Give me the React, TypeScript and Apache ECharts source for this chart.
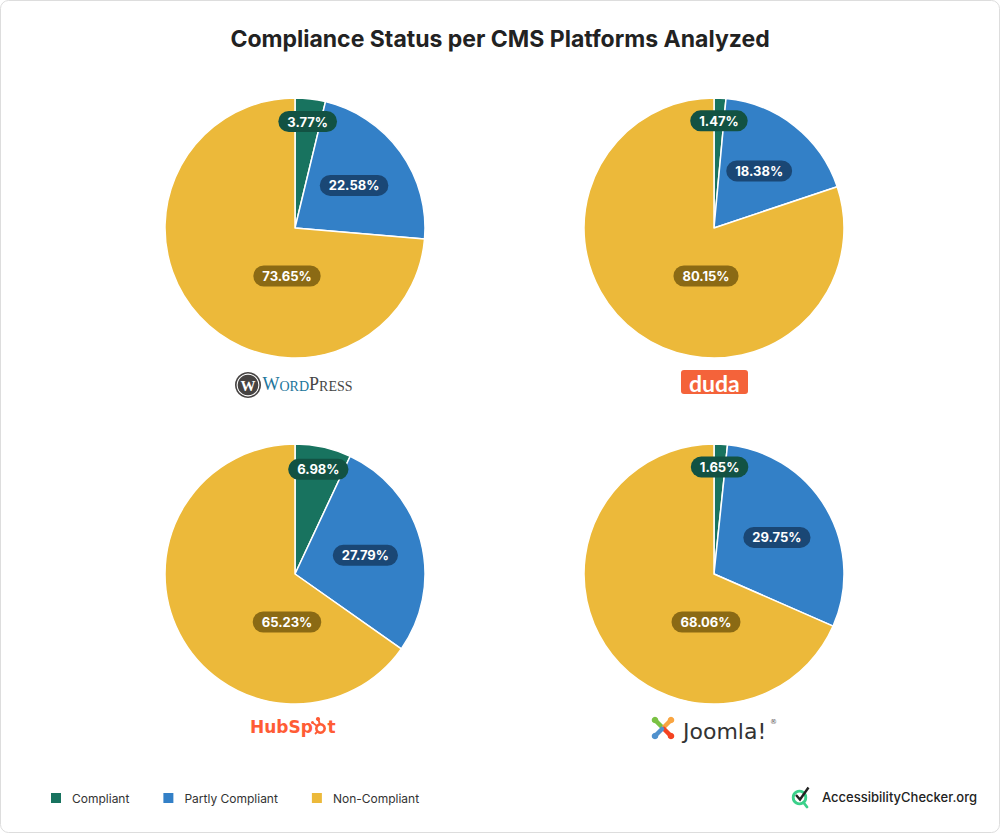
import React, { useEffect, useRef } from "react";
import * as echarts from "echarts";

const platforms = ["WordPress", "Duda", "HubSpot", "Joomla"];
const statuses = ["Compliant", "Partly Compliant", "Non-Compliant"];
const compliant = [3.77, 1.47, 6.98, 1.65];
const partlyCompliant = [22.58, 18.38, 27.79, 29.75];
const nonCompliant = [73.65, 80.15, 65.23, 68.06];

const valuesByStatus = [compliant, partlyCompliant, nonCompliant];
const sliceColors = ["#18735f", "#3380c7", "#ecb93a"];
const labelBgs = ["#125243", "#1a4775", "#8b6a14"];

const CENTERS: [number, number][] = [
  [295, 228],
  [714, 228],
  [295, 574],
  [714, 574],
];
const RADIUS = 130;

function seriesValues(s: number) {
  return valuesByStatus.map((arr) => arr[s]);
}

export default function App() {
  const ref = useRef<HTMLDivElement>(null);

  useEffect(() => {
    document.body.style.margin = "0";
    if (!ref.current) return;
    const chart = echarts.init(ref.current, undefined, { renderer: "svg" });

    const series = platforms.map((p, s) => ({
      type: "pie",
      name: p,
      center: CENTERS[s],
      radius: RADIUS,
      startAngle: 90,
      clockwise: true,
      avoidLabelOverlap: false,
      emphasis: { scale: false },
      itemStyle: { borderColor: "#ffffff", borderWidth: 1.5 },
      label: {
        show: true,
        position: "inside",
        formatter: "{c}%",
        color: "#ffffff",
        fontFamily: "Inter",
        fontWeight: 700,
        fontSize: 13,
        padding: [4, 9],
        borderRadius: 11,
      },
      labelLine: { show: false },
      labelLayout: (params: any) => {
        const si = params.seriesIndex;
        const i = params.dataIndex;
        const [cx, cy] = CENTERS[si];
        const vals = seriesValues(si);
        const total = vals.reduce((a, b) => a + b, 0);
        let before = 0;
        for (let k = 0; k < i; k++) before += vals[k];
        const mid = ((before + vals[i] / 2) / total) * Math.PI * 2;
        if (i === 2) {
          return { x: cx - 8, y: cy + 48, align: "center", verticalAlign: "middle" };
        }
        const d = i === 0 ? RADIUS * 0.825 : RADIUS * 0.56;
        return {
          x: cx + d * Math.sin(mid),
          y: cy - d * Math.cos(mid),
          align: "center",
          verticalAlign: "middle",
        };
      },
      data: statuses.map((name, k) => ({
        name,
        value: valuesByStatus[k][s],
        itemStyle: { color: sliceColors[k] },
        label: { backgroundColor: labelBgs[k] },
      })),
    }));

    const graphics: any[] = [
      {
        type: "rect",
        z: -10,
        shape: { x: 0.5, y: 0.5, width: 999, height: 832, r: 8 },
        style: { fill: "#ffffff", stroke: "#dddddd", lineWidth: 1 },
        silent: true,
      },
      // WordPress logo
      { type: "circle", shape: { cx: 248, cy: 385, r: 13 }, style: { fill: "#464342" } },
      { type: "circle", shape: { cx: 248, cy: 385, r: 11.4 }, style: { fill: "#ffffff" } },
      { type: "circle", shape: { cx: 248, cy: 385, r: 10.3 }, style: { fill: "#464342" } },
      {
        type: "text",
        x: 248,
        y: 386,
        style: {
          text: "W",
          fill: "#ffffff",
          fontFamily: "Liberation Serif",
          fontWeight: 700,
          fontSize: 15,
          align: "center",
          verticalAlign: "middle",
        },
      },
      {
        type: "text",
        x: 262.5,
        y: 384,
        style: {
          text: "{a|W}{b|ORD}{c|P}{d|RESS}",
          verticalAlign: "middle",
          align: "left",
          rich: {
            a: { fontFamily: "Liberation Serif", fontSize: 18, lineHeight: 18, fill: "#21759b", verticalAlign: "bottom" },
            b: { fontFamily: "Liberation Serif", fontSize: 14, lineHeight: 14, fill: "#21759b", verticalAlign: "bottom" },
            c: { fontFamily: "Liberation Serif", fontSize: 18, lineHeight: 18, fill: "#464646", verticalAlign: "bottom" },
            d: { fontFamily: "Liberation Serif", fontSize: 14, lineHeight: 14, fill: "#464646", verticalAlign: "bottom" },
          },
        },
      },
      // duda logo
      {
        type: "rect",
        shape: { x: 681, y: 370, width: 67, height: 24, r: 3 },
        style: { fill: "#f4633a" },
      },
      {
        type: "text",
        x: 714.3,
        y: 382.5,
        style: {
          text: "duda",
          fill: "#ffffff",
          fontFamily: "Lato",
          fontWeight: 700,
          fontSize: 23,
          align: "center",
          verticalAlign: "middle",
        },
      },
      // HubSpot logo
      {
        type: "text",
        x: 250,
        y: 727,
        style: {
          text: "HubSp",
          fill: "#ff5c35",
          fontFamily: "DejaVu Sans",
          fontWeight: 700,
          fontSize: 17,
          align: "left",
          verticalAlign: "middle",
        },
      },
      {
        type: "circle",
        shape: { cx: 320.5, cy: 728.5, r: 4.2 },
        style: { fill: "none", stroke: "#ff5c35", lineWidth: 2.6 },
      },
      {
        type: "line",
        shape: { x1: 320, y1: 724.5, x2: 318.5, y2: 720 },
        style: { stroke: "#ff5c35", lineWidth: 2 },
      },
      { type: "circle", shape: { cx: 318, cy: 719, r: 2.1 }, style: { fill: "#ff5c35" } },
      {
        type: "line",
        shape: { x1: 317, y1: 726, x2: 313, y2: 723 },
        style: { stroke: "#ff5c35", lineWidth: 1.6 },
      },
      { type: "circle", shape: { cx: 312.5, cy: 722.5, r: 1.5 }, style: { fill: "#ff5c35" } },
      {
        type: "line",
        shape: { x1: 317.5, y1: 731.5, x2: 315, y2: 734 },
        style: { stroke: "#ff5c35", lineWidth: 1.8 },
      },
      {
        type: "text",
        x: 327.5,
        y: 727,
        style: {
          text: "t",
          fill: "#ff5c35",
          fontFamily: "DejaVu Sans",
          fontWeight: 700,
          fontSize: 17,
          align: "left",
          verticalAlign: "middle",
        },
      },
      // Joomla logo
      ...[
        { c: "#7ac143", p: [[655, 720], [662, 727]] },
        { c: "#f9a541", p: [[671, 720], [664, 727]] },
        { c: "#f44321", p: [[671, 736], [664, 729]] },
        { c: "#5091cd", p: [[655, 736], [662, 729]] },
      ].flatMap((arm) => [
        {
          type: "polyline",
          shape: { points: arm.p },
          style: { stroke: arm.c, lineWidth: 4.5, lineCap: "round", fill: "none" },
        },
        {
          type: "circle",
          shape: { cx: arm.p[0][0], cy: arm.p[0][1], r: 3.3 },
          style: { fill: arm.c },
        },
      ]),
      {
        type: "text",
        x: 683,
        y: 731,
        style: {
          text: "Joomla!",
          fill: "#333333",
          fontFamily: "DejaVu Sans",
          fontWeight: 400,
          fontSize: 22,
          align: "left",
          verticalAlign: "middle",
        },
      },
      {
        type: "text",
        x: 770,
        y: 722,
        style: {
          text: "®",
          fill: "#555555",
          fontFamily: "DejaVu Sans",
          fontSize: 7,
          align: "left",
          verticalAlign: "middle",
        },
      },
      // AccessibilityChecker logo
      {
        type: "circle",
        shape: { cx: 799.5, cy: 797.5, r: 6.3 },
        style: { fill: "none", stroke: "#3bd08a", lineWidth: 2.8 },
      },
      {
        type: "line",
        shape: { x1: 803.5, y1: 802.5, x2: 807, y2: 807 },
        style: { stroke: "#3bd08a", lineWidth: 2.8, lineCap: "round" },
      },
      {
        type: "polyline",
        shape: { points: [[796, 795], [800, 799.5], [808.5, 787.5]] },
        style: { stroke: "#222222", lineWidth: 2.4, fill: "none" },
      },
      {
        type: "text",
        x: 822,
        y: 797,
        style: {
          text: "AccessibilityChecker.org",
          fill: "#222222",
          fontFamily: "Inter",
          fontWeight: 500,
          fontSize: 13,
          align: "left",
          verticalAlign: "middle",
        },
      },
    ];

    chart.setOption({
      animation: false,
      backgroundColor: "transparent",
      title: {
        text: "Compliance Status per CMS Platforms Analyzed",
        left: "center",
        top: 27,
        padding: 0,
        textStyle: { fontFamily: "Inter", fontWeight: 700, fontSize: 23, color: "#222222" },
      },
      legend: {
        left: 49,
        top: 791,
        padding: 0,
        icon: "rect",
        itemWidth: 12,
        itemHeight: 12,
        itemGap: 32,
        data: statuses,
        textStyle: { fontFamily: "Inter", fontSize: 12, color: "#333333", padding: [0, 0, 0, 5] },
      },
      graphic: graphics,
      series,
    });

    return () => chart.dispose();
  }, []);

  return <div ref={ref} style={{ width: 1000, height: 833 }} />;
}
